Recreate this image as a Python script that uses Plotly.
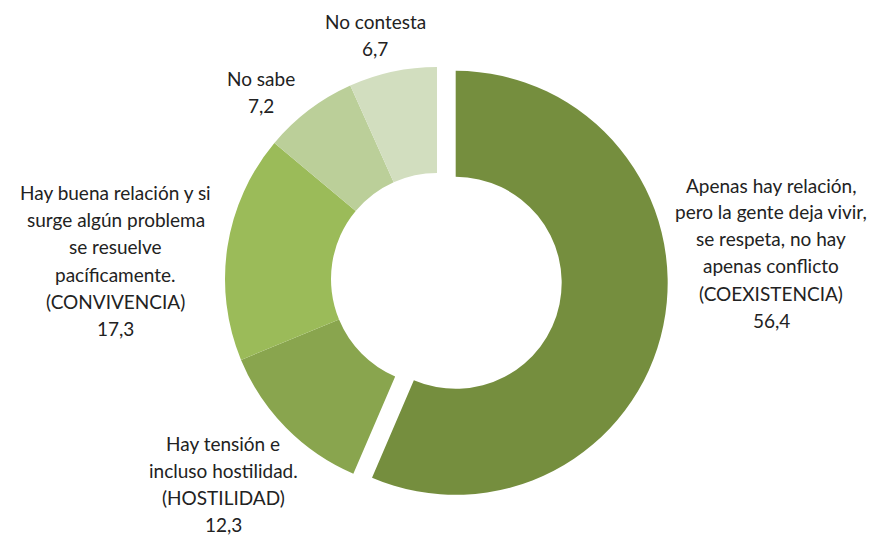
import plotly.graph_objects as go

# Survey answers: how people relate to each other in the neighbourhood (%)
labels = [
    "Apenas hay relación,<br>pero la gente deja vivir,<br>se respeta, no hay<br>apenas conflicto<br>(COEXISTENCIA)",
    "Hay tensión e<br>incluso hostilidad.<br>(HOSTILIDAD)",
    "Hay buena relación y si<br>surge algún problema<br>se resuelve<br>pacíficamente.<br>(CONVIVENCIA)",
    "No sabe",
    "No contesta",
]
values = [56.4, 12.3, 17.3, 7.2, 6.7]

colors = ["#758E3E", "#89A54E", "#9BBB59", "#BBCF99", "#D2DEBF"]
pulls = [0.09, 0, 0, 0, 0]

W, H = 883, 536
# label block centres: x of centre, y of first line (pixels)
label_pos = [(771, 185), (223, 443), (116, 193), (261, 78), (375, 22)]
LINE_H = 27
FONT = dict(family="Lato, 'Open Sans', sans-serif", size=19, color="#222222")

# pie placement (pixels): centre and outer radius of unpulled slices
cx, cy, r = 437, 279, 212
ext = 2 * r * (1 + max(pulls))

fig = go.Figure(go.Pie(
    labels=labels,
    values=values,
    hole=0.5,
    sort=False,
    direction="clockwise",
    rotation=0,
    pull=pulls,
    marker=dict(colors=colors, line=dict(width=0)),
    textinfo="none",
    hoverinfo="label+value",
    showlegend=False,
    domain=dict(
        x=[(cx - ext / 2) / W, (cx + ext / 2) / W],
        y=[(H - cy - ext / 2) / H, (H - cy + ext / 2) / H],
    ),
))

annotations = []
for lab, val, (px, py) in zip(labels, values, label_pos):
    lines = lab.split("<br>") + [f"{val:.1f}".replace(".", ",")]
    for i, line in enumerate(lines):
        annotations.append(dict(
            text=line, x=px / W, y=1 - (py + i * LINE_H) / H,
            xref="paper", yref="paper", xanchor="center", yanchor="middle",
            showarrow=False, font=FONT,
        ))

fig.update_layout(
    width=W, height=H,
    margin=dict(l=0, r=0, t=0, b=0),
    paper_bgcolor="white",
    plot_bgcolor="white",
    annotations=annotations,
)

fig.write_html("out.html")
